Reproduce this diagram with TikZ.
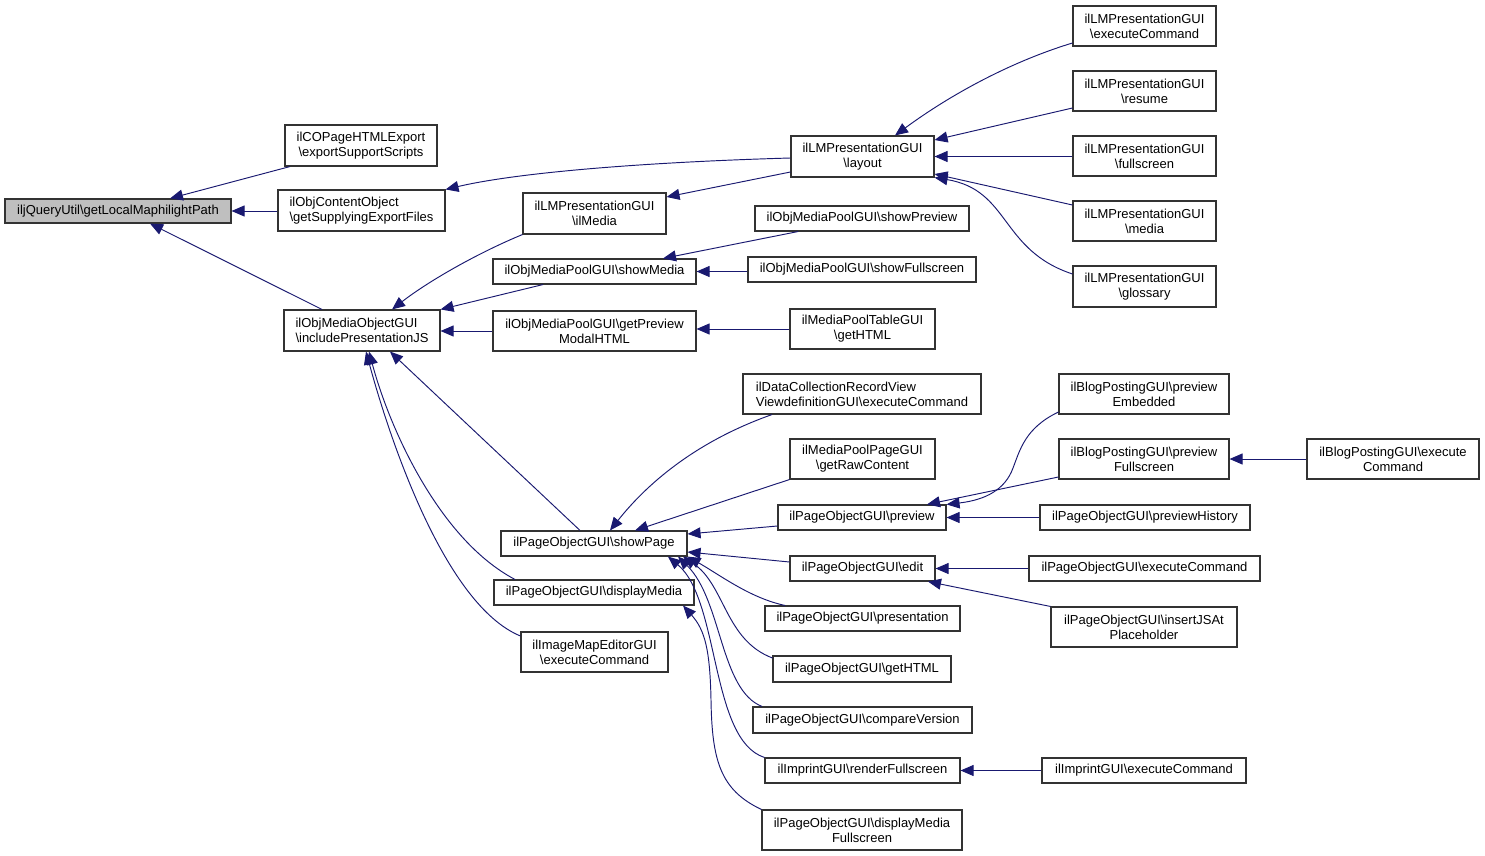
\documentclass[tikz,border=0pt]{standalone}
\usepackage{fontspec}
\setmainfont{Liberation Sans}
\usetikzlibrary{arrows.meta}
\definecolor{edgec}{HTML}{191970}
\definecolor{boxc}{HTML}{333333}
\definecolor{rootc}{HTML}{BFBFBF}
\newcommand\bsl{\textbackslash}
\newcommand\mybox[7][box]{\node[#1, minimum width=#5pt, minimum height=#6pt] (#2) at (#3,#4) {#7};}
\begin{document}
\begin{tikzpicture}[x=1pt,y=-1pt,
 box/.style={draw=boxc, line width=1.1pt, fill=white, inner sep=0pt, align=center, font=\fontsize{13}{15}\selectfont},
 lbox/.style={box, align=left},
 rootbox/.style={box, fill=rootc},
 e/.style={draw=edgec, line width=0.95pt, arrows={Triangle[length=13pt,width=11pt]-}},
]
\useasboundingbox (0,0) rectangle (1485,856);

\mybox[rootbox]{root}{118}{211}{226}{24}{iljQueryUtil\bsl getLocalMaphilightPath}
\mybox{cop}{361}{145.5}{152}{41}{ilCOPageHTMLExport\\\bsl exportSupportScripts}
\mybox[lbox]{coc}{361.5}{210.5}{167}{41}{ilObjContentObject\\\bsl getSupplyingExportFiles}
\mybox[lbox]{inc}{362}{330.5}{156}{41}{ilObjMediaObjectGUI\\\bsl includePresentationJS}
\mybox{lay}{862.5}{156.5}{143}{41}{ilLMPresentationGUI\\\bsl layout}
\mybox{ilm}{594.5}{213.5}{143}{41}{ilLMPresentationGUI\\\bsl ilMedia}
\mybox{smd}{594.5}{271.5}{203}{25}{ilObjMediaPoolGUI\bsl showMedia}
\mybox{gpm}{594.5}{331}{203}{40}{ilObjMediaPoolGUI\bsl getPreview\\ModalHTML}
\mybox{spv}{862}{218.5}{214}{25}{ilObjMediaPoolGUI\bsl showPreview}
\mybox{sfs}{862}{269.5}{228}{25}{ilObjMediaPoolGUI\bsl showFullscreen}
\mybox{mpt}{862.5}{329}{145}{40}{ilMediaPoolTableGUI\\\bsl getHTML}
\mybox{l1}{1144.5}{26}{143}{40}{ilLMPresentationGUI\\\bsl executeCommand}
\mybox{l2}{1144.5}{91}{143}{40}{ilLMPresentationGUI\\\bsl resume}
\mybox{l3}{1144.5}{156}{143}{40}{ilLMPresentationGUI\\\bsl fullscreen}
\mybox{l4}{1144.5}{221}{143}{40}{ilLMPresentationGUI\\\bsl media}
\mybox{l5}{1144.5}{286.5}{143}{41}{ilLMPresentationGUI\\\bsl glossary}
\mybox[lbox]{dcr}{862}{394}{238}{40}{ilDataCollectionRecordView\\ViewdefinitionGUI\bsl executeCommand}
\mybox{mpp}{862.5}{459}{145}{40}{ilMediaPoolPageGUI\\\bsl getRawContent}
\mybox{shp}{594}{543.5}{186}{25}{ilPageObjectGUI\bsl showPage}
\mybox{prv}{862}{517.5}{168}{25}{ilPageObjectGUI\bsl preview}
\mybox{edt}{862.5}{568.5}{145}{25}{ilPageObjectGUI\bsl edit}
\mybox{prs}{862.5}{618.5}{195}{25}{ilPageObjectGUI\bsl presentation}
\mybox{ght}{862}{669}{178}{26}{ilPageObjectGUI\bsl getHTML}
\mybox{cmp}{862.5}{720}{219}{26}{ilPageObjectGUI\bsl compareVersion}
\mybox{rfs}{862.5}{770.5}{195}{25}{ilImprintGUI\bsl renderFullscreen}
\mybox{dmf}{862}{830}{200}{40}{ilPageObjectGUI\bsl displayMedia\\Fullscreen}
\mybox{dpm}{594}{592.5}{200}{25}{ilPageObjectGUI\bsl displayMedia}
\mybox{ime}{594.5}{652}{147}{40}{ilImageMapEditorGUI\\\bsl executeCommand}
\mybox{bpe}{1144}{394}{170}{40}{ilBlogPostingGUI\bsl preview\\Embedded}
\mybox{bpf}{1144}{459}{170}{40}{ilBlogPostingGUI\bsl preview\\Fullscreen}
\mybox{bpx}{1393}{459}{172}{40}{ilBlogPostingGUI\bsl execute\\Command}
\mybox{pvh}{1145}{517.5}{210}{25}{ilPageObjectGUI\bsl previewHistory}
\mybox{pex}{1144.5}{568.5}{231}{25}{ilPageObjectGUI\bsl executeCommand}
\mybox{pjs}{1144}{627}{186}{40}{ilPageObjectGUI\bsl insertJSAt\\Placeholder}
\mybox{iex}{1144}{770.5}{204}{25}{ilImprintGUI\bsl executeCommand}

% connectors
\draw[e] (root.north -| 170,0) -- (cop.south -| 290,0);
\draw[e] (root.east) -- (coc.west |- root.east);
\draw[e] (root.south -| 150,0) -- (inc.north -| 322,0);
\draw[e] (coc.north east) .. controls (520,172) and (650,162) .. (lay.west |- 0,158);
\draw[e] (inc.north -| 392,0) .. controls (430,280) and (480,252) .. (ilm.south west);
\draw[e] (inc.north east) -- (smd.south -| 543,0);
\draw[e] (inc.east |- gpm.west) -- (gpm.west);
\draw[e] (inc.south -| 390,0) -- (shp.north -| 580,0);
\draw[e] (inc.south -| 369,0) .. controls (390,430) and (440,540) .. (dpm.north -| 515,0);
\draw[e] (inc.south -| 366,0) .. controls (390,440) and (445,605) .. (ime.west |- 0,636);
\draw[e] (ilm.east |- 0,197) -- (lay.west |- 0,172);
\draw[e] (smd.north -| 663,0) -- (spv.south -| 798,0);
\draw[e] (smd.east) -- (sfs.west |- smd.east);
\draw[e] (gpm.east |- mpt.west) -- (mpt.west);
\draw[e] (lay.north -| 895,0) .. controls (950,95) and (1010,62) .. (l1.west |- 0,43);
\draw[e] (lay.east |- 0,140) -- (l2.west |- 0,108);
\draw[e] (lay.east) -- (l3.west |- lay.east);
\draw[e] (lay.east |- 0,174) -- (l4.west |- 0,205);
\draw[e] (lay.south east) .. controls (1010,190) and (1000,250) .. (l5.west |- 0,274);
\draw[e] (shp.north -| 610,0) .. controls (650,480) and (700,440) .. (dcr.south -| 772,0);
\draw[e] (shp.north -| 635,0) -- (mpp.south west);
\draw[e] (shp.east |- 0,534) -- (prv.west |- 0,526);
\draw[e] (shp.east |- 0,552) -- (edt.west |- 0,562);
\draw[e] (shp.south east) .. controls (720,575) and (750,598) .. (prs.north -| 785,0);
\draw[e] (shp.south -| 683,0) .. controls (725,585) and (725,640) .. (ght.west |- 0,658);
\draw[e] (shp.south -| 678,0) .. controls (722,600) and (720,690) .. (cmp.north -| 762,0);
\draw[e] (shp.south -| 668,0) .. controls (720,600) and (710,740) .. (rfs.north west);
\draw[e] (dpm.south -| 683,0) .. controls (705,630) and (710,650) .. (711,700) .. controls (712,760) and (720,790) .. (dmf.north west);
\draw[e] (prv.north east) .. controls (985,500) and (1005,490) .. (1013,468) .. controls (1020,450) and (1025,428) .. (bpe.west |- 0,412);
\draw[e] (prv.north -| 927,0) -- (bpf.west |- 0,477);
\draw[e] (prv.east) -- (pvh.west);
\draw[e] (bpf.east) -- (bpx.west);
\draw[e] (edt.east) -- (pex.west);
\draw[e] (edt.south -| 928,0) -- (pjs.north west);
\draw[e] (rfs.east) -- (iex.west);
\end{tikzpicture}
\end{document}
